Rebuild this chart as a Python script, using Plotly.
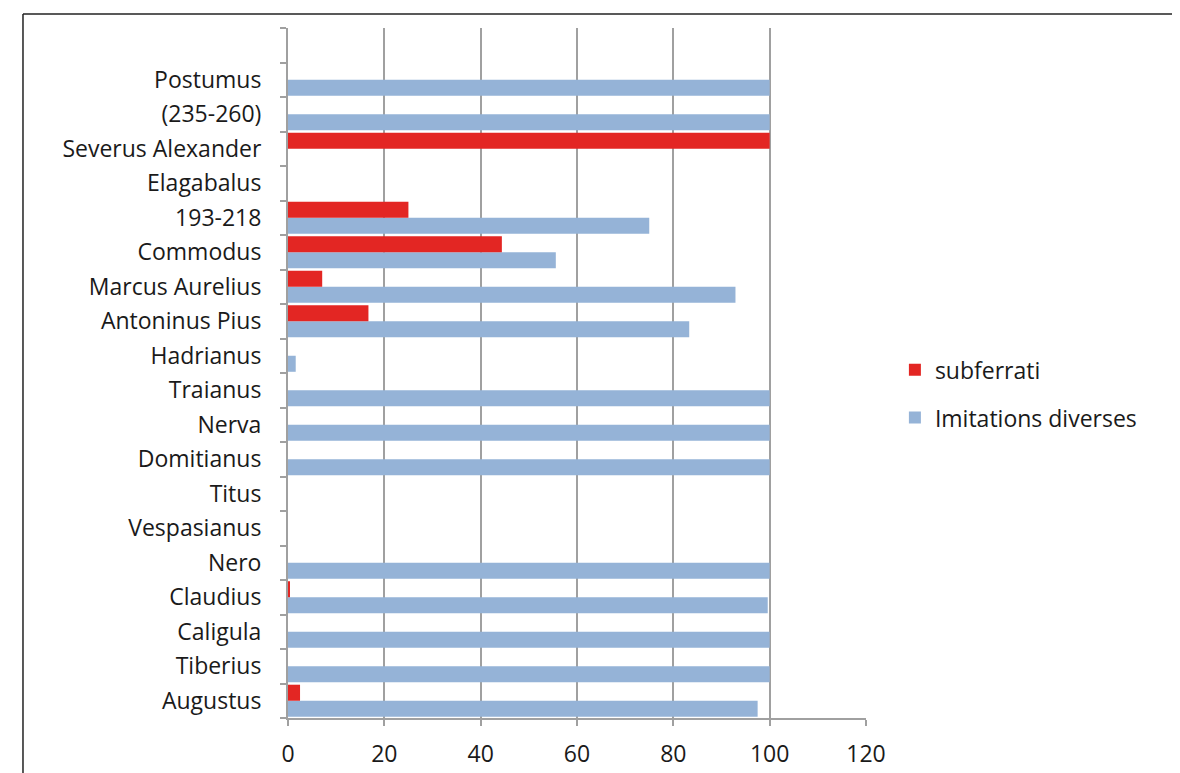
import plotly.graph_objects as go

categories = ["Augustus", "Tiberius", "Caligula", "Claudius", "Nero", "Vespasianus",
              "Titus", "Domitianus", "Nerva", "Traianus", "Hadrianus", "Antoninus Pius",
              "Marcus Aurelius", "Commodus", "193-218", "Elagabalus", "Severus Alexander",
              "(235-260)", "Postumus", " "]
subferrati = [2.5, None, None, 0.4, None, None, None, None, None, None, None, 16.7,
              7.1, 44.4, 25, None, 100, None, None, None]
imitations = [97.5, 100, 100, 99.6, 100, None, None, 100, 100, 100, 1.6, 83.3,
              92.9, 55.6, 75, None, None, 100, 100, None]
x_ticks = [0, 20, 40, 60, 80, 100, 120]

RED = "#E32623"
BLUE = "#95B3D7"
GRID = "#A0A0A0"
FONT = dict(family="Open Sans", size=23, color="#1a1a1a")

fig = go.Figure()
fig.add_trace(go.Bar(y=categories, x=imitations, orientation="h", name="Imitations diverses",
                     marker=dict(color=BLUE, line=dict(width=0)), legendgroup="b", legendrank=2))
fig.add_trace(go.Bar(y=categories, x=subferrati, orientation="h", name="subferrati",
                     marker=dict(color=RED, line=dict(width=0)), legendgroup="a", legendrank=1))

fig.update_layout(
    width=1180, height=773,
    margin=dict(l=280, r=322, t=20, b=61),
    paper_bgcolor="white", plot_bgcolor="white",
    barmode="group", bargap=0.07, bargroupgap=0,
    font=FONT,
    showlegend=True,
    legend=dict(x=1.05, y=0.47, xanchor="left", yanchor="middle",
                traceorder="grouped", tracegroupgap=15,
                font=FONT, bgcolor="rgba(0,0,0,0)"),
    xaxis=dict(range=[0, 120], tickvals=x_ticks, ticktext=[str(v) for v in x_ticks],
               showgrid=True, gridcolor=GRID, gridwidth=2,
               showline=True, linecolor=GRID, linewidth=2,
               ticks="outside", ticklen=6, tickcolor=GRID, tickwidth=2,
               zeroline=False, ticklabelstandoff=8, tickfont=FONT),
    yaxis=dict(type="category", categoryorder="array", categoryarray=categories,
               range=[-0.5, len(categories) - 0.5],
               showgrid=False, zeroline=False,
               showline=True, linecolor=GRID, linewidth=2,
               ticks="outside", tickson="boundaries", ticklen=6, tickcolor=GRID, tickwidth=2,
               ticklabelstandoff=20, tickfont=FONT),
    shapes=[
        dict(type="line", xref="paper", yref="paper", x0=-0.4585, x1=1.6, y0=1.0202, y1=1.0202,
             line=dict(color="#222222", width=1.5)),
        dict(type="line", xref="paper", yref="paper", x0=-0.4585, x1=-0.4585, y0=1.0202, y1=-0.2,
             line=dict(color="#222222", width=1.5)),
    ],
)

fig.write_html("out.html")
